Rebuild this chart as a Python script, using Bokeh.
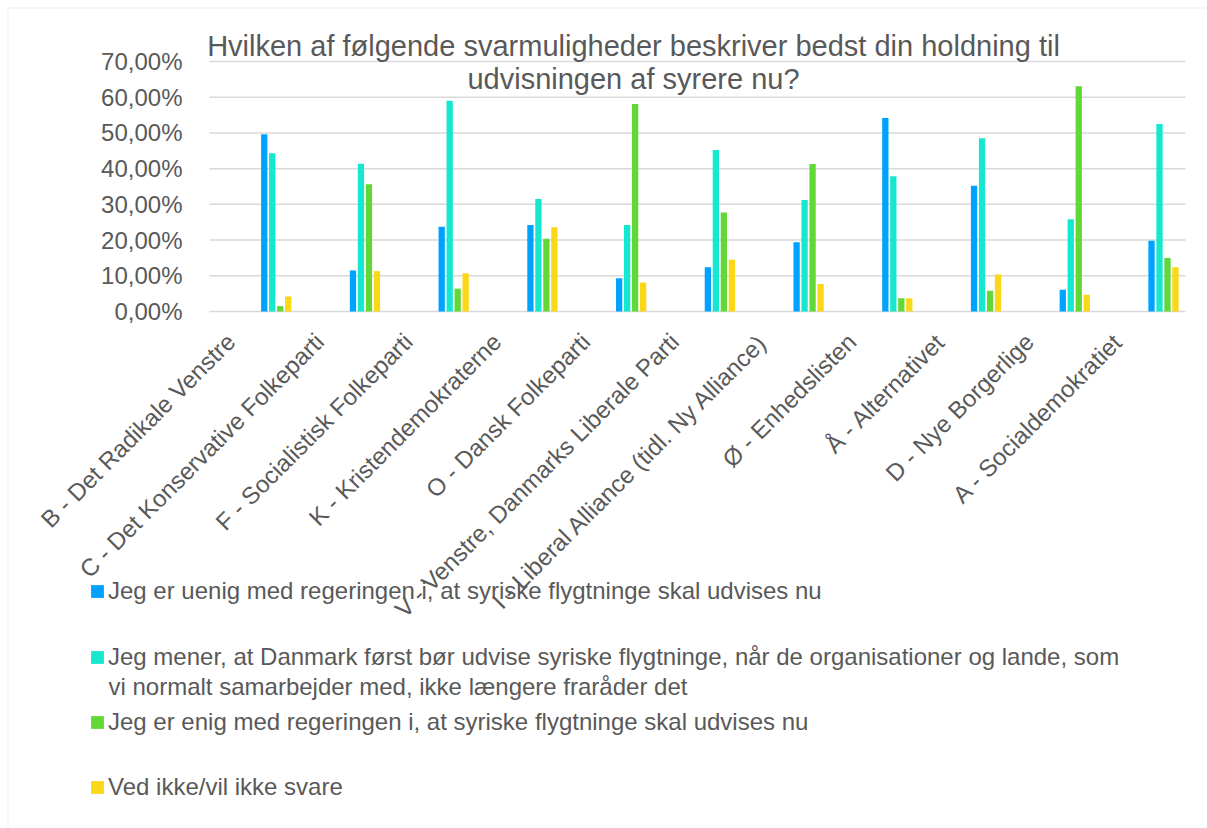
import math
from bokeh.plotting import figure
from bokeh.models import (ColumnDataSource, Range1d, FixedTicker, LinearAxis, Label, Legend,
                          LegendItem, CustomJSTickFormatter, BoxAnnotation)
from bokeh.transform import dodge
from bokeh.embed import file_html
from bokeh.resources import INLINE

categories = [
    "B - Det Radikale Venstre",
    "C - Det Konservative Folkeparti",
    "F - Socialistisk Folkeparti",
    "K - Kristendemokraterne",
    "O - Dansk Folkeparti",
    "V - Venstre, Danmarks Liberale Parti",
    "I - Liberal Alliance (tidl. Ny Alliance)",
    "Ø - Enhedslisten",
    "Å - Alternativet",
    "D - Nye Borgerlige",
    "A - Socialdemokratiet",
]
uenig = [49.6, 11.5, 23.7, 24.2, 9.3, 12.4, 19.4, 54.2, 35.2, 6.1, 19.8]
mener = [44.3, 41.4, 59.0, 31.5, 24.2, 45.2, 31.2, 37.9, 48.5, 25.8, 52.5]
enig = [1.5, 35.6, 6.4, 20.4, 58.1, 27.7, 41.3, 3.7, 5.8, 63.1, 15.0]
vedikke = [4.2, 11.3, 10.7, 23.6, 8.1, 14.5, 7.7, 3.7, 10.4, 4.7, 12.4]

# legend texts (series 2 wraps onto a second line)
series_names = [
    ["Jeg er uenig med regeringen i, at syriske flygtninge skal udvises nu"],
    ["Jeg mener, at Danmark først bør udvise syriske flygtninge, når de organisationer og lande, som",
     "vi normalt samarbejder med, ikke længere fraråder det"],
    ["Jeg er enig med regeringen i, at syriske flygtninge skal udvises nu"],
    ["Ved ikke/vil ikke svare"],
]
colors = ["#00A2FF", "#16E7CF", "#61D836", "#FAD717"]
y_ticks = [0, 10, 20, 30, 40, 50, 60, 70]
y_tick_labels = ["0,00%", "10,00%", "20,00%", "30,00%", "40,00%", "50,00%", "60,00%", "70,00%"]
title_lines = ["Hvilken af følgende svarmuligheder beskriver bedst din holdning til",
               "udvisningen af syrere nu?"]

# ---- layout geometry (pixels) ----
W, H = 1207, 828
PLOT_L, PLOT_R, PLOT_T, PLOT_B = 209, 1185, 61, 311
n = len(categories)
px_cat = (PLOT_R - PLOT_L) / n
px_unit = (PLOT_B - PLOT_T) / (y_ticks[-1] - y_ticks[0])
x_rng = Range1d(-PLOT_L / px_cat, (W - PLOT_L) / px_cat)
y_rng = Range1d(-(H - PLOT_B) / px_unit, y_ticks[-1] + PLOT_T / px_unit)

xpos = [i + 0.5 for i in range(n)]
src = ColumnDataSource(dict(x=xpos, party=categories, s0=uenig, s1=mener, s2=enig, s3=vedikke))

TXT = "#595959"
FONT = "Liberation Sans"

p = figure(width=W, height=H, x_range=x_rng, y_range=y_rng,
           x_axis_location=None, y_axis_location=None,
           output_backend="svg", toolbar_location=None,
           min_border_left=0, min_border_right=0, min_border_top=0, min_border_bottom=0)
p.outline_line_color = None
p.background_fill_color = "white"
p.border_fill_color = "white"
p.xgrid.visible = False
p.ygrid.visible = False

# gridlines across the category area
p.segment(x0=[0] * len(y_ticks), x1=[n] * len(y_ticks), y0=y_ticks, y1=y_ticks,
          line_color="#D9D9D9", line_width=1.5)

offsets = [0.117, 0.207, 0.297, 0.387]
renderers = []
for i, (col, c) in enumerate(zip(["s0", "s1", "s2", "s3"], colors)):
    r = p.vbar(x=dodge("x", offsets[i]), top=col, width=0.071,
               source=src, fill_color=c, line_color=None)
    renderers.append(r)

yax = LinearAxis(fixed_location=0, ticker=FixedTicker(ticks=y_ticks))
yax.major_label_overrides = {t: l for t, l in zip(y_ticks, y_tick_labels)}
yax.axis_line_color = None
yax.major_tick_line_color = None
yax.minor_tick_line_color = None
yax.major_label_standoff = 21
yax.major_label_text_font = FONT
yax.major_label_text_font_size = "24px"
yax.major_label_text_color = TXT
p.add_layout(yax, "left")

label_shift = 0.24
xax = LinearAxis(fixed_location=0,
                 ticker=FixedTicker(ticks=[i + label_shift for i in range(n)]),
                 formatter=CustomJSTickFormatter(args=dict(labels=categories, sh=label_shift),
                                                 code="const i = Math.round(tick - sh); return labels[i] ?? '';"))
xax.axis_line_color = None
xax.major_tick_line_color = None
xax.minor_tick_line_color = None
xax.major_label_orientation = math.pi / 4
xax.major_label_standoff = 20
xax.major_label_text_font = FONT
xax.major_label_text_font_size = "24px"
xax.major_label_text_color = TXT
p.add_layout(xax, "below")

# title (screen units: from frame bottom-left)
for txt, base in zip(title_lines, [45, 78]):
    p.add_layout(Label(x=633, y=H - base, x_units="screen", y_units="screen", text=txt,
                       text_align="center", text_baseline="alphabetic",
                       text_font=FONT, text_font_size="29px", text_color=TXT))

# legend, one block per series (first line middles at 591, 657, 722, 787 px)
legend_mid = [591, 657, 722, 787]
item_h = 28
for i, r in enumerate(renderers):
    lg = Legend(items=[LegendItem(label=series_names[i][0], renderers=[r])],
                location=(89, H - legend_mid[i] - item_h // 2), orientation="vertical",
                glyph_width=16, glyph_height=16, label_standoff=3,
                padding=0, margin=0, spacing=0,
                border_line_color=None, background_fill_alpha=0,
                label_text_font=FONT, label_text_font_size="24px", label_text_color=TXT)
    p.add_layout(lg, "center")
    for k, extra in enumerate(series_names[i][1:], start=1):
        p.add_layout(Label(x=108, y=H - legend_mid[i] - 29 * k, x_units="screen", y_units="screen",
                           text=extra, text_align="left", text_baseline="middle",
                           text_font=FONT, text_font_size="24px", text_color=TXT))

# chart border (light grey frame at top and left)
p.add_layout(BoxAnnotation(left=7.5, right=W + 50, top=H - 7.5, bottom=-50,
                           left_units="screen", right_units="screen",
                           top_units="screen", bottom_units="screen",
                           fill_alpha=0, line_color="#D9D9D9", line_width=1.5))

open("out.html", "w").write(file_html(p, INLINE))
